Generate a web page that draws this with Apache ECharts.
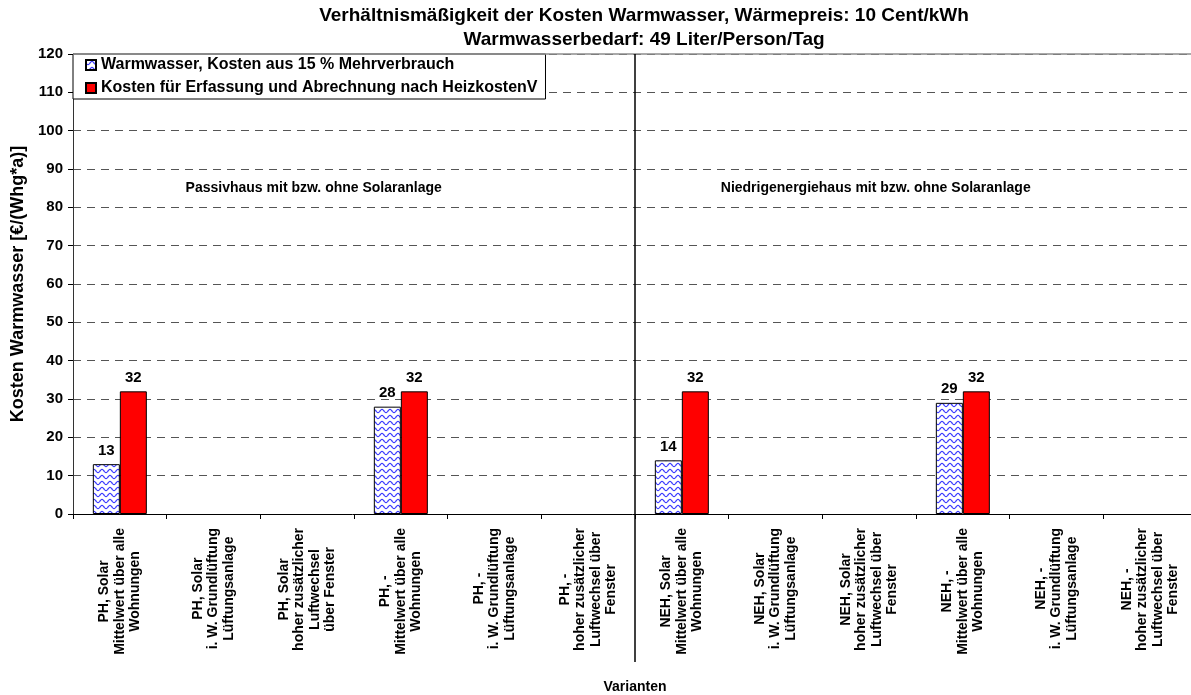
<!DOCTYPE html>
<html>
<head>
<meta charset="utf-8">
<script src="https://cdn.jsdelivr.net/npm/echarts@6/dist/echarts.min.js"></script>
<style>
  html, body { margin: 0; padding: 0; background: #fff; }
  #chart { width: 1191px; height: 695px; }
</style>
</head>
<body>
<div id="chart"></div>
<script>
// Variants (x categories), one line per row of the rotated label
const categories = [
  'PH, Solar\nMittelwert über alle\nWohnungen',
  'PH, Solar\ni. W. Grundlüftung\nLüftungsanlage',
  'PH, Solar\nhoher zusätzlicher\nLuftwechsel\nüber Fenster',
  'PH, -\nMittelwert über alle\nWohnungen',
  'PH, -\ni. W. Grundlüftung\nLüftungsanlage',
  'PH, -\nhoher zusätzlicher\nLuftwechsel über\nFenster',
  'NEH, Solar\nMittelwert über alle\nWohnungen',
  'NEH, Solar\ni. W. Grundlüftung\nLüftungsanlage',
  'NEH, Solar\nhoher zusätzlicher\nLuftwechsel über\nFenster',
  'NEH, -\nMittelwert über alle\nWohnungen',
  'NEH, -\ni. W. Grundlüftung\nLüftungsanlage',
  'NEH, -\nhoher zusätzlicher\nLuftwechsel über\nFenster'
];

const seriesNames = [
  'Warmwasser, Kosten aus 15 % Mehrverbrauch',
  'Kosten für Erfassung und Abrechnung nach HeizkostenV'
];

// €/(Whg*a)
const warmwasserKosten = [13, null, null, 28, null, null, 14, null, null, 29, null, null];
const abrechnungKosten = [32, null, null, 32, null, null, 32, null, null, 32, null, null];

const yTicks = { min: 0, max: 120, step: 10 };

const groupNotes = [
  'Passivhaus mit bzw. ohne Solaranlage',
  'Niedrigenergiehaus mit bzw. ohne Solaranlage'
];

const FONT = '"Liberation Sans", Arial, Helvetica, sans-serif';

// white tile with a blue wave line, repeated over the bar
function wavePattern() {
  const c = document.createElement('canvas');
  c.width = 8; c.height = 6;
  const g = c.getContext('2d');
  g.fillStyle = '#ffffff';
  g.fillRect(0, 0, 8, 6);
  g.strokeStyle = '#3a3aff';
  g.lineWidth = 1.2;
  g.beginPath();
  for (let x = -1; x <= 9; x += 0.5) {
    const y = 3 + 1.6 * Math.sin(2 * Math.PI * x / 8);
    if (x === -1) g.moveTo(x, y); else g.lineTo(x, y);
  }
  g.stroke();
  return c;
}

const valueLabel = {
  show: true, position: 'top', distance: 6,
  fontFamily: FONT, fontSize: 15, fontWeight: 'bold', color: '#000'
};

const chart = echarts.init(document.getElementById('chart'), null, { renderer: 'canvas' });

const option = {
  backgroundColor: '#ffffff',
  animation: false,
  title: {
    text: 'Verhältnismäßigkeit der Kosten Warmwasser, Wärmepreis: 10 Cent/kWh\nWarmwasserbedarf: 49 Liter/Person/Tag',
    left: 644,
    top: 4,
    padding: 0,
    textAlign: 'center',
    textStyle: { fontFamily: FONT, fontSize: 19, fontWeight: 'bold', color: '#000', lineHeight: 24 }
  },
  legend: {
    orient: 'vertical',
    left: 73, top: 54,
    padding: [3, 8, 3, 12],
    itemWidth: 10, itemHeight: 10, itemGap: 7, itemTextGap: 4,
    icon: 'rect',
    backgroundColor: '#ffffff',
    borderColor: '#000', borderWidth: 1, borderRadius: 0,
    textStyle: { fontFamily: FONT, fontSize: 16, fontWeight: 'bold', color: '#000', lineHeight: 16 },
    data: seriesNames
  },
  grid: { left: 73, top: 54, width: 1124, height: 460, containLabel: false, outerBoundsMode: 'none' },
  xAxis: [{
    type: 'category',
    data: categories,
    name: 'Varianten',
    nameLocation: 'middle',
    nameGap: 166,
    nameTextStyle: { fontFamily: FONT, fontSize: 14, fontWeight: 'bold', color: '#000' },
    axisLine: { lineStyle: { color: '#000', width: 1 } },
    axisTick: { show: true, length: 5, lineStyle: { color: '#000' } },
    axisLabel: {
      interval: 0, rotate: 90, margin: 14,
      formatter: v => v.split('\n').map(l => '{c|' + l + '}').join('\n'),
      rich: { c: { align: 'center', fontFamily: FONT, fontSize: 14, fontWeight: 'bold', color: '#000', lineHeight: 15.5 } }
    },
    splitLine: { show: false }
  }, {
    // plain numeric twin of the category axis, used to place notes and the divider
    type: 'value', min: 0, max: categories.length, show: false, position: 'top'
  }],
  yAxis: {
    type: 'value',
    min: yTicks.min, max: yTicks.max, interval: yTicks.step,
    name: 'Kosten Warmwasser [€/(Whg*a)]',
    nameLocation: 'middle', nameGap: 45,
    nameTextStyle: { fontFamily: FONT, fontSize: 18, fontWeight: 'bold', color: '#000' },
    axisLine: { show: true, lineStyle: { color: '#333', width: 1 } },
    axisTick: { show: true, length: 5, lineStyle: { color: '#000' } },
    axisLabel: { fontFamily: FONT, fontSize: 15, fontWeight: 'bold', color: '#000', margin: 10 },
    splitLine: { show: true, lineStyle: { type: [8, 6], color: '#555', width: 1 } }
  },
  series: [{
    name: seriesNames[0],
    type: 'bar',
    data: warmwasserKosten,
    barWidth: 27, barGap: '0%',
    itemStyle: { color: { image: wavePattern(), repeat: 'repeat' }, borderColor: '#000', borderWidth: 1 },
    label: valueLabel
  }, {
    name: seriesNames[1],
    type: 'bar',
    data: abrechnungKosten,
    barWidth: 27, barGap: '0%',
    itemStyle: { color: '#ff0000', borderColor: '#000', borderWidth: 1 },
    label: valueLabel,
    markLine: {
      silent: true, symbol: 'none', label: { show: false },
      lineStyle: { type: 'solid', color: '#8c8c8c', width: 1.5 },
      data: [{ yAxis: yTicks.max }]
    }
  }]
};

chart.setOption(option);

// divider between the two building types and the group notes
const xDiv = chart.convertToPixel({ xAxisIndex: 1 }, categories.length / 2);
const yTop = chart.convertToPixel({ yAxisIndex: 0 }, yTicks.max);
const yZero = chart.convertToPixel({ yAxisIndex: 0 }, 0);
const yNote = chart.convertToPixel({ yAxisIndex: 0 }, 85);
const noteFont = 'bold 14px ' + FONT;

chart.setOption({
  graphic: [{
    type: 'line', silent: true, z: 10,
    shape: { x1: xDiv, y1: yTop, x2: xDiv, y2: yZero + 148 },
    style: { stroke: '#000', lineWidth: 1.5 }
  }, {
    type: 'text', silent: true, z: 10,
    x: chart.convertToPixel({ xAxisIndex: 1 }, 2.57), y: yNote,
    style: { text: groupNotes[0], font: noteFont, fill: '#000', align: 'center', verticalAlign: 'middle' }
  }, {
    type: 'text', silent: true, z: 10,
    x: chart.convertToPixel({ xAxisIndex: 1 }, 8.57), y: yNote,
    style: { text: groupNotes[1], font: noteFont, fill: '#000', align: 'center', verticalAlign: 'middle' }
  }]
});
</script>
</body>
</html>
